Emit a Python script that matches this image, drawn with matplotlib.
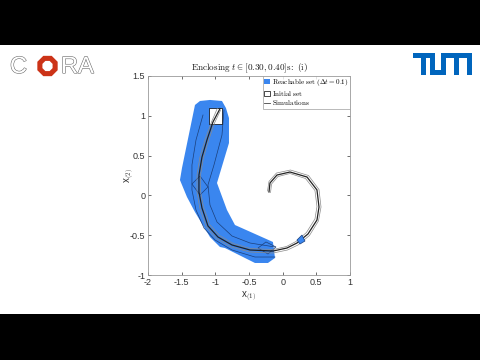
import numpy as np
import matplotlib
matplotlib.use('Agg')
import matplotlib.pyplot as plt
import matplotlib.patheffects as pe
from matplotlib.patches import Polygon, Rectangle, RegularPolygon

plt.rcParams['font.family'] = ['Liberation Sans', 'DejaVu Sans']
plt.rcParams['mathtext.fontset'] = 'cm'
plt.rcParams['axes.unicode_minus'] = False

# reachable set outline (union)
reach_x = [-1.302, -1.228, -1.079, -0.901, -0.842, -0.797, -0.797, -0.975, -0.827, -0.708,
           -0.144, -0.114, -0.218, -0.411, -0.856, -0.931, -1.079, -1.302, -1.421, -1.525, -1.495]
reach_y = [1.136, 1.186, 1.199, 1.186, 1.098, 0.972, 0.658, 0.156, -0.183, -0.372,
           -0.585, -0.786, -0.849, -0.849, -0.661, -0.648, -0.523, -0.209, -0.020, 0.193, 0.344]

# zonotope edges visible inside the set
rail_l_x = [-1.183, -1.287, -1.347, -1.347, -1.287, -1.168, -1.005, -0.752, -0.411, -0.114]
rail_l_y = [1.010, 0.696, 0.382, 0.068, -0.183, -0.410, -0.560, -0.686, -0.774, -0.774]
rail_r_x = [-0.871, -0.901, -1.020, -1.109, -1.079, -0.975, -0.752, -0.485, -0.114]
rail_r_y = [1.073, 0.759, 0.382, 0.131, -0.121, -0.334, -0.510, -0.598, -0.648]
dia1_x = [-1.347, -1.228, -1.109, -1.228]
dia1_y = [0.143, 0.244, 0.106, 0.005]
dia2_x = [-0.366, -0.248, -0.099, -0.218]
dia2_y = [-0.661, -0.585, -0.648, -0.736]

# current set (small blue box on the spiral)
cur_x = [0.213, 0.287, 0.332, 0.257]
cur_y = [-0.560, -0.498, -0.573, -0.611]

# initial set
init_x = [-1.1, -0.9]
init_y = [0.9, 1.1]

# simulations
sim_a_x = [-0.930, -1.035, -1.124, -1.198, -1.243, -1.243, -1.198, -1.109, -0.960, -0.752, -0.485,
           -0.143, 0.064, 0.213, 0.376, 0.510, 0.540, 0.510, 0.362, 0.109, -0.084, -0.188, -0.203]
sim_a_y = [1.090, 0.922, 0.696, 0.482, 0.256, 0.043, -0.158, -0.384, -0.523, -0.623, -0.686,
           -0.699, -0.661, -0.598, -0.485, -0.309, -0.146, 0.068, 0.231, 0.294, 0.256, 0.156, 0.043]
sim_b_x = [-0.970, -1.057, -1.153, -1.228, -1.272, -1.272, -1.228, -1.131, -0.983, -0.767, -0.485,
           -0.143, 0.072, 0.228, 0.398, 0.532, 0.570, 0.540, 0.384, 0.116, -0.092, -0.203, -0.225]
sim_b_y = [1.094, 0.922, 0.696, 0.482, 0.256, 0.043, -0.170, -0.397, -0.541, -0.648, -0.711,
           -0.724, -0.686, -0.623, -0.504, -0.321, -0.146, 0.074, 0.250, 0.319, 0.281, 0.175, 0.055]
sim_c_x = [-0.923, -1.012, -1.101, -1.175, -1.220, -1.220, -1.175, -1.086, -0.938, -0.737, -0.477,
           -0.143, 0.057, 0.198, 0.354, 0.480, 0.510, 0.480, 0.340, 0.109, -0.069, -0.165, -0.180]
sim_c_y = [1.069, 0.909, 0.689, 0.476, 0.256, 0.049, -0.145, -0.365, -0.504, -0.604, -0.667,
           -0.680, -0.642, -0.579, -0.466, -0.296, -0.140, 0.061, 0.212, 0.275, 0.237, 0.143, 0.036]

x_ticks = [-2, -1.5, -1, -0.5, 0, 0.5, 1]
y_ticks = [-1, -0.5, 0, 0.5, 1, 1.5]

blue = '#3a86ef'
edge = '#1b3f7a'
txt = '#333333'

fig = plt.figure(figsize=(4.8, 3.6), dpi=100)

# overlay in pixel units for the video frame and logos
lg = fig.add_axes([0, 0, 1, 1], zorder=0)
lg.set_xlim(0, 480)
lg.set_ylim(360, 0)
lg.axis('off')
lg.add_patch(Rectangle((0, 0), 480, 45, color='black', lw=0))
lg.add_patch(Rectangle((0, 314), 480, 46, color='black', lw=0))

outline = [pe.Stroke(linewidth=0.8, foreground='#6a6a6a'), pe.Normal()]
lg.text(10, 67, 'C', fontsize=17, color='white', va='center', ha='left',
        family='Liberation Sans', path_effects=outline)
lg.add_patch(RegularPolygon((47.5, 66), numVertices=8, radius=11, orientation=np.pi / 8,
                            fc='#cc3318', ec='none'))
lg.add_patch(RegularPolygon((47.5, 66), numVertices=8, radius=5.5, orientation=np.pi / 8,
                            fc='white', ec='none'))
lg.text(61, 67, 'RA', fontsize=17, color='white', va='center', ha='left',
        family='Liberation Sans', path_effects=outline)

tum = '#0065bd'
bars = [(413, 53, 435, 58), (421, 53, 426, 75), (430, 53, 435, 75), (430, 70, 446, 75),
        (441, 53, 446, 75), (441, 53, 472, 58), (454, 53, 459, 75), (467, 53, 472, 75)]
for x0, y0, x1, y1 in bars:
    lg.add_patch(Rectangle((x0, y0), x1 - x0, y1 - y0, color=tum, lw=0))

ax = fig.add_axes([0.3083, 0.2361, 0.4208, 0.5528], zorder=1)

ax.add_patch(Polygon(np.column_stack([reach_x, reach_y]), closed=True, fc=blue, ec='none', zorder=1))
ax.plot(rail_l_x, rail_l_y, color=edge, lw=0.5, zorder=2)
ax.plot(rail_r_x, rail_r_y, color=edge, lw=0.5, zorder=2)
ax.add_patch(Polygon(np.column_stack([dia1_x, dia1_y]), closed=True, fc='none', ec=edge, lw=0.5, zorder=2))
ax.add_patch(Polygon(np.column_stack([dia2_x, dia2_y]), closed=True, fc='none', ec=edge, lw=0.5, zorder=2))
ax.add_patch(Polygon(np.column_stack([cur_x, cur_y]), closed=True, fc=blue, ec=edge, lw=0.5, zorder=4))

ax.add_patch(Rectangle((init_x[0], init_y[0]), init_x[1] - init_x[0], init_y[1] - init_y[0],
                       fc='white', ec='black', lw=0.5, zorder=2.5))

ax.plot(sim_b_x, sim_b_y, color='#8a8a8a', lw=0.5, zorder=3)
ax.plot(sim_c_x, sim_c_y, color='#8a8a8a', lw=0.5, zorder=3)
ax.plot(sim_a_x, sim_a_y, color='#222222', lw=0.9, zorder=3)

ax.set_xlim(-2, 1)
ax.set_ylim(-1, 1.5)
ax.set_xticks(x_ticks)
ax.set_yticks(y_ticks)
ax.set_xticklabels([f'{v:g}' for v in x_ticks])
ax.set_yticklabels([f'{v:g}' for v in y_ticks])
ax.tick_params(direction='in', top=True, right=True, length=2.5, width=0.5,
               labelsize=6.5, colors=txt, pad=2)
for s in ax.spines.values():
    s.set_color('#9a9a9a')
    s.set_linewidth(0.6)

ax.set_xlabel(r'x$_{(1)}$', fontsize=7, color=txt, labelpad=2)
ax.set_ylabel(r'x$_{(2)}$', fontsize=7, color=txt, labelpad=-5)
ax.set_title(r'$\mathrm{Enclosing}\ t \in [0.30, 0.40]\mathrm{s}\!:\ \mathrm{(i)}$',
             fontsize=6.6, color='#1a1a1a', pad=4)

ax.fill([], [], fc=blue, ec='none', label=r'$\mathrm{Reachable\ set}\ (\Delta t = 0.1)$')
ax.fill([], [], fc='white', ec='black', lw=0.5, label=r'$\mathrm{Initial\ set}$')
ax.plot([], [], color='#444444', lw=0.6, label=r'$\mathrm{Simulations}$')
leg = ax.legend(loc='upper right', fontsize=5.1, borderaxespad=0, frameon=True, fancybox=False,
                handlelength=0.9, handleheight=0.7, handletextpad=0.2, labelspacing=0.05,
                borderpad=0.2)
leg.get_frame().set_edgecolor('#9a9a9a')
leg.get_frame().set_linewidth(0.6)

fig.savefig('out.png', dpi=100)
